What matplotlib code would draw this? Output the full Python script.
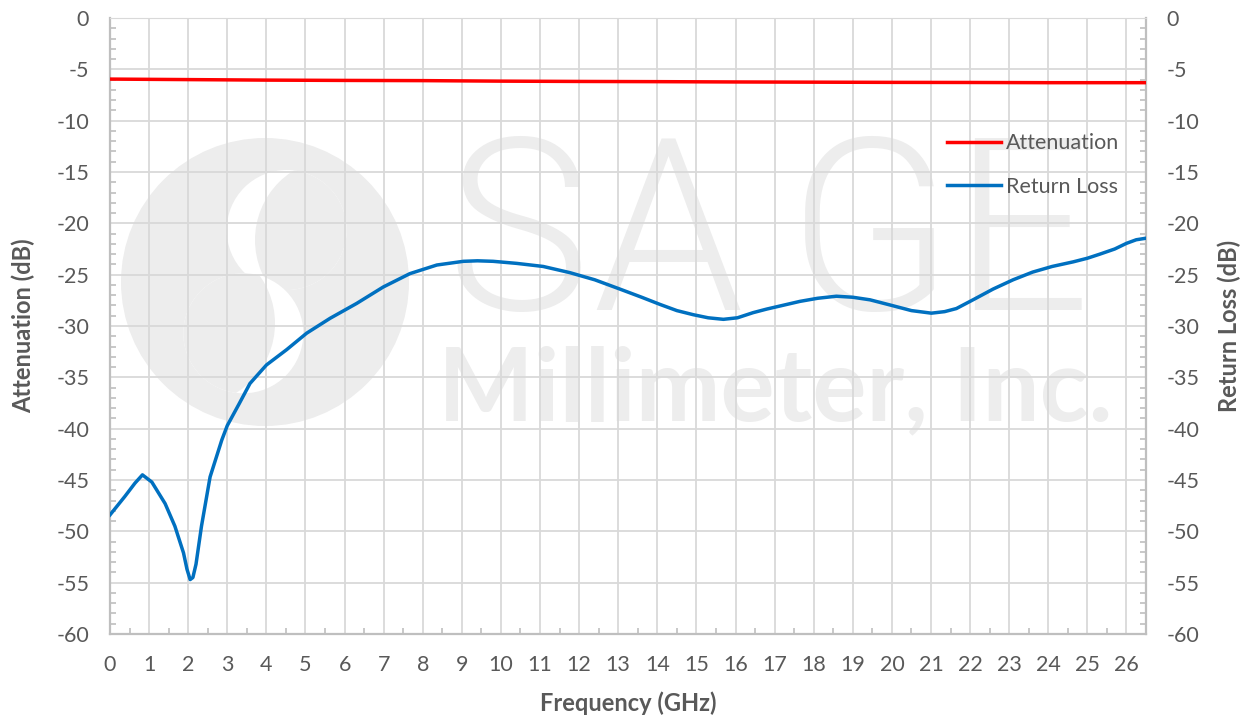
import numpy as np
import matplotlib
matplotlib.use('Agg')
import matplotlib.pyplot as plt
from matplotlib.patches import Circle
from matplotlib.ticker import MultipleLocator

# Data
freq_rl = [0.0, 0.38, 0.64, 0.83, 1.07, 1.41, 1.66, 1.88, 1.97, 2.05, 2.12, 2.2, 2.34, 2.56,
           2.86, 3.0, 3.3, 3.58, 4.0, 4.52, 5.03, 5.63, 6.31, 6.99, 7.67, 8.36, 9.04, 9.4,
           9.8, 10.4, 11.08, 11.76, 12.4, 13.04, 13.6, 14.07, 14.5, 14.92, 15.3, 15.69,
           16.05, 16.45, 16.8, 17.14, 17.65, 18.1, 18.58, 19.0, 19.44, 20.0, 20.5, 21.01,
           21.35, 21.65, 22.1, 22.59, 23.1, 23.6, 24.1, 24.64, 25.0, 25.32, 25.7, 26.0,
           26.25, 26.5]
return_loss = [-48.4, -46.6, -45.3, -44.5, -45.2, -47.3, -49.5, -52.1, -53.7, -54.7, -54.5,
               -53.2, -49.5, -44.7, -41.1, -39.7, -37.6, -35.6, -33.8, -32.3, -30.7, -29.25,
               -27.8, -26.2, -24.9, -24.06, -23.7, -23.65, -23.7, -23.9, -24.2, -24.8, -25.5,
               -26.4, -27.2, -27.9, -28.5, -28.9, -29.2, -29.35, -29.2, -28.7, -28.35, -28.05,
               -27.6, -27.3, -27.1, -27.2, -27.45, -28.0, -28.5, -28.75, -28.6, -28.3, -27.4,
               -26.4, -25.5, -24.75, -24.2, -23.75, -23.4, -23.0, -22.5, -21.95, -21.6, -21.45]

freq_att = [0, 2, 4, 6, 8, 10, 12, 14, 16, 18, 20, 22, 24, 26.5]
attenuation = [-5.95, -6.0, -6.05, -6.08, -6.1, -6.15, -6.18, -6.2, -6.23, -6.25, -6.27,
               -6.28, -6.3, -6.3]

text_col = '#595959'
grid_col = '#D9D9D9'
spine_col = '#BFBFBF'
wm_col = '#EDEDED'

plt.rcParams['font.family'] = ['Lato', 'DejaVu Sans']
plt.rcParams['axes.unicode_minus'] = False

W, H = 1248, 717
fig = plt.figure(figsize=(W / 100, H / 100), dpi=100)

# background watermark (logo + company name) in pixel coordinates
bg = fig.add_axes([0, 0, 1, 1], zorder=0)
bg.set_xlim(0, W)
bg.set_ylim(H, 0)
bg.axis('off')
bg.add_patch(Circle((265, 282), 144, color=wm_col, lw=0))
for wc, gc in [((286.7, 230), (336.7, 240)), ((243.3, 333.3), (193.3, 323.3))]:
    white = Circle(wc, 60, color='white', lw=0)
    bg.add_patch(white)
    gray = Circle(gc, 81.7, color=wm_col, lw=0)
    bg.add_patch(gray)
    gray.set_clip_path(white)
for letter, lx in zip('SAGE', [447, 592, 788, 952]):
    bg.text(lx, 310, letter, fontsize=174, color=wm_col, family='Roboto', fontweight=300,
            ha='left', va='baseline')
bg.text(438, 420, 'Millimeter, Inc.', fontsize=73, color=wm_col, fontweight='bold',
        ha='left', va='baseline')

ax = fig.add_axes([110 / W, 1 - 634 / H, (1146 - 110) / W, (634 - 18) / H], zorder=1)
ax.patch.set_alpha(0)

ax.plot(freq_att, attenuation, color='#FF0000', lw=2.5, label='Attenuation', zorder=3)
ax.plot(freq_rl, return_loss, color='#0070C0', lw=2.5, label='Return Loss', zorder=3)

ax.set_xlim(0, 26.5)
ax.set_ylim(-60, 0)
ax.xaxis.set_major_locator(MultipleLocator(1))
ax.xaxis.set_minor_locator(MultipleLocator(0.5))
ax.yaxis.set_major_locator(MultipleLocator(5))
ax.yaxis.set_minor_locator(MultipleLocator(1))
ax.grid(which='major', color=grid_col, lw=1.3, zorder=1)
ax.set_axisbelow(True)

ax.tick_params(which='both', direction='in', color=spine_col, labelcolor=text_col,
               labelsize=15.5, pad=15)
ax.tick_params(which='major', length=0)
ax.tick_params(which='minor', length=4, width=1.2)
ax.tick_params(axis='y', which='both', right=False)
for s in ['left', 'right', 'bottom']:
    ax.spines[s].set_color(spine_col)
    ax.spines[s].set_linewidth(1.6)
ax.spines['top'].set_color(grid_col)

ax2 = ax.twinx()
ax2.set_ylim(-60, 0)
ax2.yaxis.set_major_locator(MultipleLocator(5))
ax2.yaxis.set_minor_locator(MultipleLocator(1))
ax2.tick_params(which='both', direction='in', color=spine_col, labelcolor=text_col,
                labelsize=15.5, pad=15)
ax2.tick_params(which='major', length=0)
ax2.tick_params(which='minor', length=4, width=1.2)
for s in ax2.spines.values():
    s.set_visible(False)

ax.set_xlabel('Frequency (GHz)', fontsize=17, fontweight='bold', color=text_col, labelpad=12)
ax.set_ylabel('Attenuation (dB)', fontsize=17, fontweight='bold', color=text_col, labelpad=15)
ax2.set_ylabel('Return Loss (dB)', fontsize=17, fontweight='bold', color=text_col, labelpad=13)

leg = ax.legend(loc='upper left', bbox_to_anchor=(0.808, 0.813), frameon=False,
                fontsize=15.5, handlelength=2.5, handletextpad=0.25, labelspacing=1.1,
                borderpad=0, borderaxespad=0)
for t in leg.get_texts():
    t.set_color(text_col)

fig.savefig('out.png', dpi=100)
